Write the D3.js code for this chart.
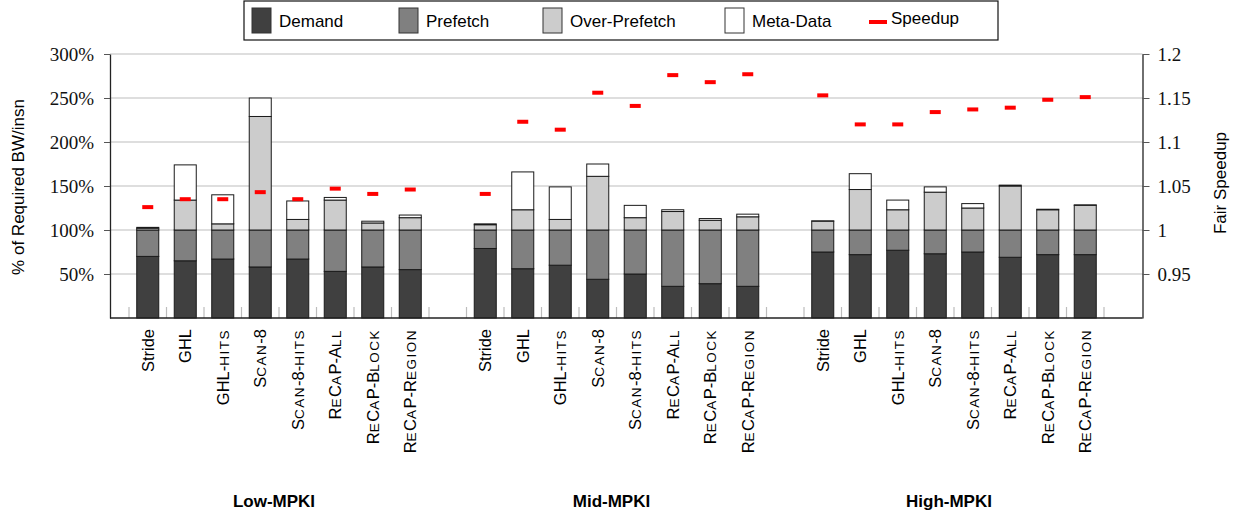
<!DOCTYPE html>
<html>
<head>
<meta charset="utf-8">
<script src="https://cdn.jsdelivr.net/npm/d3@7"></script>
<style>
  body { margin: 0; background: #fff; }
  text { font-family: "Liberation Sans", Arial, sans-serif; }
  .num text, text.num { font-family: "Liberation Serif", "Times New Roman", serif; }
</style>
</head>
<body>
<script>
// categories
var groups = ["Low-MPKI", "Mid-MPKI", "High-MPKI"];
var schemes = ["Stride", "GHL", "GHL-hits", "Scan-8", "Scan-8-hits", "ReCaP-All", "ReCaP-Block", "ReCaP-Region"];
var smallCaps = [false, false, true, true, true, true, true, true];

// stacked segments in % (Low, Mid, High — 8 schemes each)
var demand = [70, 65, 67, 58, 67, 53, 58, 55,
              79, 56, 60, 44, 50, 36, 39, 36,
              75, 72, 77, 73, 75, 69, 72, 72];
var prefetch = [30, 35, 33, 42, 33, 47, 42, 45,
                21, 44, 40, 56, 50, 64, 61, 64,
                25, 28, 23, 27, 25, 31, 28, 28];
var overPrefetch = [2, 34, 7, 129, 12, 34, 8, 14,
                    6, 23, 12, 61, 14, 21, 11, 15,
                    10, 46, 23, 43, 25, 50, 23, 28];
var metaData = [1, 40, 33, 21, 21, 3, 2, 3,
                1, 43, 37, 14, 14, 2, 2, 3,
                0.4, 18, 11, 6, 5, 1, 0.6, 0.6];
var speedup = [1.026, 1.035, 1.035, 1.043, 1.035, 1.047, 1.041, 1.046,
               1.041, 1.123, 1.114, 1.156, 1.141, 1.176, 1.168, 1.177,
               1.153, 1.120, 1.120, 1.134, 1.137, 1.139, 1.148, 1.151];

var seriesNames = ["Demand", "Prefetch", "Over-Prefetch", "Meta-Data"];
var seriesColors = ["#404040", "#808080", "#cccccc", "#ffffff"];
var leftTicks = [50, 100, 150, 200, 250, 300];
var rightTicks = [0.95, 1, 1.05, 1.1, 1.15, 1.2];

var W = 1233, H = 513;
var plot = {left: 110, right: 1142.5, top: 54, bottom: 318};

var svg = d3.select("body").append("svg")
  .attr("width", W).attr("height", H);

// build the row table
var rows = [];
groups.forEach(function(g, gi) {
  schemes.forEach(function(s, si) {
    var k = gi * schemes.length + si;
    rows.push({key: g + "|" + s, group: g, scheme: s, sc: smallCaps[si],
      Demand: demand[k], Prefetch: prefetch[k], "Over-Prefetch": overPrefetch[k],
      "Meta-Data": metaData[k], speedup: speedup[k]});
  });
});

// slot domain with one empty slot between groups
var slots = [];
groups.forEach(function(g, gi) {
  schemes.forEach(function(s) { slots.push(g + "|" + s); });
  if (gi < groups.length - 1) slots.push("gap" + gi);
});

var x = d3.scaleBand().domain(slots).range([129, 1104]).paddingInner(0.413).paddingOuter(0.2065);
var step = x.step();

var y = d3.scaleLinear().domain([0, 300]).range([plot.bottom, plot.top]);
var y2 = d3.scaleLinear().domain([0.9, 1.2]).range([plot.bottom, plot.top]);

// gridlines
svg.append("g").selectAll("line").data(leftTicks).enter().append("line")
  .attr("x1", plot.left).attr("x2", plot.right)
  .attr("y1", function(d) { return y(d); }).attr("y2", function(d) { return y(d); })
  .attr("stroke", "#bdbdbd").attr("stroke-width", 1);

// small ticks at slot boundaries
var tickX = [];
groups.forEach(function(g) {
  schemes.forEach(function(s) { tickX.push(x(g + "|" + s) - (step - x.bandwidth()) / 2); });
  tickX.push(x(g + "|" + schemes[schemes.length - 1]) + x.bandwidth() + (step - x.bandwidth()) / 2);
});
svg.append("g").selectAll("line").data(tickX).enter().append("line")
  .attr("x1", function(d) { return d; }).attr("x2", function(d) { return d; })
  .attr("y1", plot.bottom - 11).attr("y2", plot.bottom)
  .attr("stroke", "#bdbdbd").attr("stroke-width", 1.2);

// stacked bars
var stack = d3.stack().keys(seriesNames)(rows);
svg.append("g").selectAll("g").data(stack).enter().append("g")
  .attr("fill", function(d, i) { return seriesColors[i]; })
  .selectAll("rect").data(function(d) { return d; }).enter().append("rect")
    .attr("x", function(d) { return x(d.data.key); })
    .attr("width", x.bandwidth())
    .attr("y", function(d) { return y(d[1]); })
    .attr("height", function(d) { return y(d[0]) - y(d[1]); })
    .attr("stroke", "#1a1a1a").attr("stroke-width", 1);

// speedup markers
svg.append("g").selectAll("rect").data(rows).enter().append("rect")
  .attr("x", function(d) { return x(d.key) + x.bandwidth() / 2 - 5.5; })
  .attr("y", function(d) { return y2(d.speedup) - 2; })
  .attr("width", 11).attr("height", 4)
  .attr("fill", "#ff0000");

// axes
var leftAxis = svg.append("g").attr("class", "num")
  .attr("transform", "translate(" + plot.left + ",0)")
  .call(d3.axisLeft(y).tickValues(leftTicks).tickFormat(function(d) { return d + "%"; })
    .tickSize(6).tickSizeOuter(0).tickPadding(10));
leftAxis.selectAll("text").style("font-size", "19px").attr("fill", "#111");
leftAxis.select(".domain").attr("stroke", "#222").attr("stroke-width", 1.3);
leftAxis.selectAll(".tick line").attr("stroke", "#555");

var rightAxis = svg.append("g").attr("class", "num")
  .attr("transform", "translate(" + plot.right + ",0)")
  .call(d3.axisRight(y2).tickValues(rightTicks).tickFormat(function(d) { return String(+d.toFixed(2)); })
    .tickSize(7).tickSizeOuter(0).tickPadding(8));
rightAxis.selectAll("text").style("font-size", "19px").attr("fill", "#111");
rightAxis.select(".domain").attr("stroke", "#222").attr("stroke-width", 1.3);
rightAxis.selectAll(".tick line").attr("stroke", "#555");

svg.append("line")
  .attr("x1", plot.left).attr("x2", plot.right)
  .attr("y1", plot.bottom).attr("y2", plot.bottom)
  .attr("stroke", "#222").attr("stroke-width", 1.5);

// category labels (small caps done with tspans)
function runs(str) {
  var out = [], cur = null;
  for (var i = 0; i < str.length; i++) {
    var ch = str[i];
    var low = ch >= "a" && ch <= "z";
    if (!cur || cur.low !== low) { cur = {low: low, t: ""}; out.push(cur); }
    cur.t += ch;
  }
  return out;
}
var lab = svg.append("g").selectAll("text").data(rows).enter().append("text")
  .attr("transform", function(d) {
    return "translate(" + (x(d.key) + x.bandwidth() / 2) + "," + (plot.bottom + 11) + ")rotate(-90)";
  })
  .attr("text-anchor", "end").attr("dy", "0.36em")
  .style("font-size", "16.5px").attr("fill", "#000");
lab.each(function(d) {
  var t = d3.select(this);
  if (!d.sc) { t.text(d.scheme); return; }
  runs(d.scheme).forEach(function(r) {
    var sp = t.append("tspan").text(r.low ? r.t.toUpperCase() : r.t)
      .style("font-size", r.low ? "13.5px" : "16.5px");
    if (r.low) sp.style("letter-spacing", "1.5px");
  });
});

// group labels
svg.append("g").selectAll("text").data(groups).enter().append("text")
  .attr("x", function(g) {
    return (x(g + "|" + schemes[0]) + x(g + "|" + schemes[schemes.length - 1]) + x.bandwidth()) / 2 - 5;
  })
  .attr("y", 507)
  .attr("text-anchor", "middle")
  .style("font-size", "17px").style("font-weight", "bold")
  .text(function(g) { return g; });

// axis titles
svg.append("text")
  .attr("transform", "translate(24,187)rotate(-90)")
  .attr("text-anchor", "middle").style("font-size", "17px")
  .text("% of Required BW/insn");
svg.append("text")
  .attr("transform", "translate(1220,183)rotate(-90)")
  .attr("text-anchor", "middle").attr("dy", "0.35em").style("font-size", "17px")
  .text("Fair Speedup");

// legend
var legend = svg.append("g");
legend.append("rect")
  .attr("x", 244).attr("y", 1).attr("width", 754).attr("height", 39)
  .attr("fill", "#fff").attr("stroke", "#111").attr("stroke-width", 1.2);
var legX = [252, 399, 543, 725];
seriesNames.forEach(function(n, i) {
  legend.append("rect")
    .attr("x", legX[i]).attr("y", 8).attr("width", 19).attr("height", 25)
    .attr("fill", seriesColors[i]).attr("stroke", "#333").attr("stroke-width", 1);
  legend.append("text")
    .attr("x", legX[i] + 27).attr("y", 27)
    .style("font-size", "17px").text(n);
});
legend.append("line")
  .attr("x1", 869).attr("x2", 887).attr("y1", 22).attr("y2", 22)
  .attr("stroke", "#ff0000").attr("stroke-width", 4);
legend.append("text")
  .attr("x", 891).attr("y", 24).style("font-size", "17px").text("Speedup");
</script>
</body>
</html>
